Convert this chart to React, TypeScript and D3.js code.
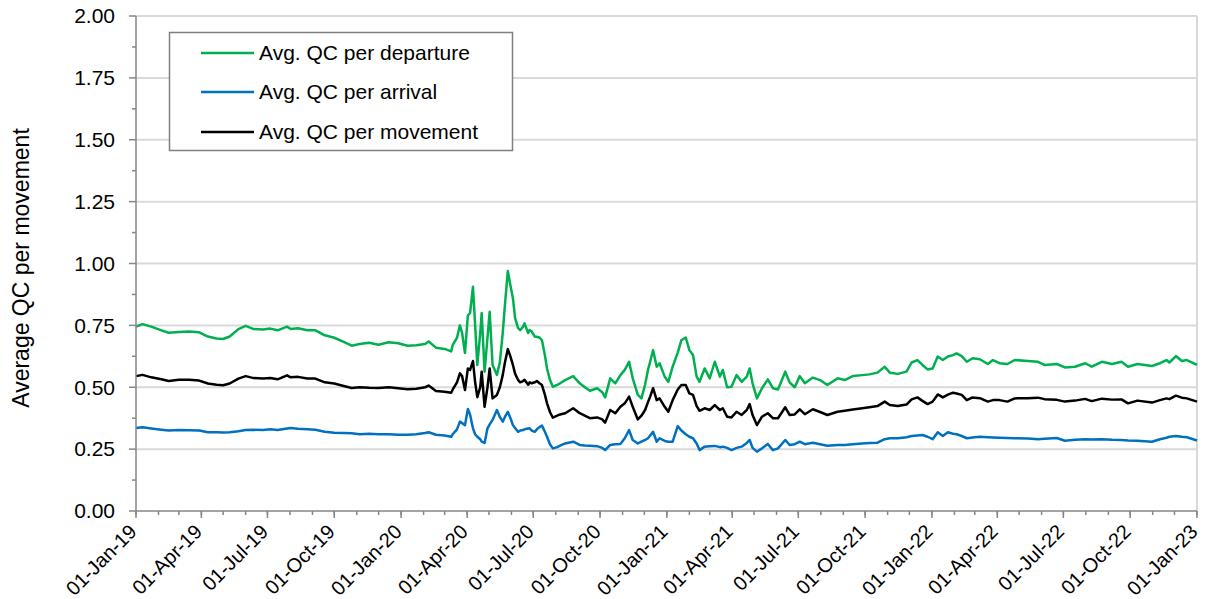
import React from "react";
import * as d3 from "d3";

const dates: string[] = [
  "2019-01-01","2019-01-10","2019-01-22","2019-02-05","2019-02-15","2019-03-01","2019-03-15","2019-03-29","2019-04-10","2019-04-22",
  "2019-05-01","2019-05-10","2019-05-22","2019-06-01","2019-06-12","2019-06-25","2019-07-05","2019-07-15","2019-07-28","2019-08-02",
  "2019-08-12","2019-08-25","2019-09-05","2019-09-18","2019-10-01","2019-10-14","2019-10-25","2019-11-05","2019-11-18","2019-12-01",
  "2019-12-15","2019-12-28","2020-01-10","2020-01-22","2020-02-03","2020-02-08","2020-02-18","2020-03-01","2020-03-10",
  "2020-03-12","2020-03-18","2020-03-22","2020-03-25","2020-03-29","2020-04-02","2020-04-05","2020-04-09","2020-04-12","2020-04-15",
  "2020-04-19","2020-04-21","2020-04-25","2020-04-29","2020-05-02","2020-05-06","2020-05-12","2020-05-16","2020-05-20","2020-05-23",
  "2020-05-27","2020-05-30","2020-06-03","2020-06-06","2020-06-10","2020-06-13","2020-06-17","2020-06-19","2020-06-24","2020-06-26",
  "2020-06-29","2020-07-03","2020-07-06","2020-07-10","2020-07-13","2020-07-17","2020-07-20","2020-07-24","2020-07-28","2020-08-03",
  "2020-08-07","2020-08-14",
  "2020-08-25","2020-09-03","2020-09-10","2020-09-17","2020-09-27","2020-10-04","2020-10-08","2020-10-15","2020-10-22","2020-10-29",
  "2020-11-04","2020-11-10","2020-11-15","2020-11-22","2020-11-27","2020-12-02","2020-12-06","2020-12-09","2020-12-13","2020-12-18",
  "2020-12-22","2020-12-29","2021-01-03","2021-01-09","2021-01-16","2021-01-21","2021-01-27","2021-02-01","2021-02-06","2021-02-11",
  "2021-02-15","2021-02-22","2021-03-01","2021-03-08","2021-03-15","2021-03-19","2021-03-25","2021-03-31","2021-04-07","2021-04-14",
  "2021-04-21","2021-04-25","2021-04-29","2021-05-05","2021-05-12","2021-05-20","2021-05-27","2021-06-03",
  "2021-06-13","2021-06-19","2021-06-26","2021-07-03","2021-07-10","2021-07-21","2021-07-31","2021-08-10","2021-08-24","2021-09-03",
  "2021-09-14","2021-09-27","2021-10-07","2021-10-18","2021-10-28","2021-11-04","2021-11-15","2021-11-27","2021-12-04","2021-12-12",
  "2021-12-19","2021-12-26","2022-01-02","2022-01-09","2022-01-16","2022-01-23","2022-01-30","2022-02-04","2022-02-11","2022-02-18",
  "2022-02-26","2022-03-08","2022-03-19",
  "2022-03-26","2022-04-04","2022-04-15","2022-04-25","2022-05-13","2022-05-27","2022-06-05","2022-06-22","2022-07-03","2022-07-17",
  "2022-07-31","2022-08-09","2022-08-23","2022-09-06","2022-09-19","2022-09-28","2022-10-11","2022-10-31","2022-11-11","2022-11-20",
  "2022-11-24","2022-12-03","2022-12-11","2022-12-18","2023-01-01",
];

const departure: number[] = [
  .745,.755,.745,.73,.72,.723,.725,.722,.705,.697,.695,.705,.735,.748,.735,.733,.737,.73,.745,.735,
  .738,.73,.73,.71,.7,.683,.668,.675,.68,.672,.682,.678,.668,.67,.675,.685,.66,.655,.645,
  .67,.7,.75,.72,.638,.79,.8,.906,.75,.59,.72,.8,.563,.7,.805,.59,.55,.6,.72,.832,
  .97,.92,.86,.78,.74,.731,.745,.758,.719,.731,.725,.705,.704,.7,.69,.63,.576,.53,.502,.51,
  .516,.529,
  .545,.516,.5,.486,.496,.48,.459,.536,.516,.549,.57,.603,.536,.469,.455,.51,.57,.603,.65,.583,
  .597,.543,.522,.583,.64,.69,.701,.65,.63,.543,.522,.576,.536,.603,.543,.57,.5,.502,.549,.522,
  .543,.576,.516,.455,.496,.532,.496,.491,
  .563,.52,.5,.545,.516,.539,.529,.509,.536,.529,.545,.549,.552,.559,.583,.559,.554,.563,.6,.61,
  .59,.572,.576,.624,.61,.624,.63,.637,.626,.603,.617,.613,.594,
  .61,.597,.594,.61,.606,.603,.59,.594,.58,.583,.597,.583,.603,.594,.603,.583,.594,.586,.597,.61,
  .6,.626,.606,.61,.59,
];

const arrival: number[] = [
  .335,.338,.333,.328,.325,.327,.326,.325,.318,.318,.317,.318,.322,.327,.328,.327,.33,.327,.333,.335,
  .332,.33,.328,.32,.316,.315,.314,.31,.312,.31,.31,.308,.308,.31,.315,.318,.308,.305,.3,
  .31,.33,.361,.355,.347,.412,.39,.334,.31,.3,.29,.28,.275,.334,.35,.368,.408,.38,.361,.38,
  .401,.38,.347,.335,.32,.325,.327,.33,.333,.334,.325,.32,.33,.34,.345,.32,.3,.27,.253,.258,
  .264,.273,
  .28,.267,.265,.264,.262,.255,.246,.267,.27,.271,.294,.327,.287,.273,.28,.287,.294,.305,.32,.28,
  .294,.283,.28,.28,.343,.325,.31,.3,.294,.273,.246,.26,.262,.263,.258,.26,.255,.246,.255,.26,
  .275,.287,.255,.24,.253,.271,.246,.253,
  .287,.267,.27,.28,.27,.276,.27,.264,.267,.267,.27,.273,.275,.276,.29,.294,.294,.298,.303,.305,
  .307,.3,.29,.318,.303,.318,.312,.31,.303,.294,.297,.3,.298,
  .297,.296,.295,.294,.293,.29,.292,.295,.284,.288,.29,.289,.29,.288,.287,.285,.284,.28,.29,.296,
  .3,.303,.3,.298,.285,
];

const movement: number[] = [
  .545,.55,.54,.532,.525,.53,.53,.527,.515,.51,.508,.515,.535,.545,.537,.535,.537,.532,.548,.54,
  .542,.535,.535,.52,.515,.505,.497,.5,.498,.497,.5,.496,.492,.494,.5,.507,.485,.482,.478,
  .49,.52,.556,.545,.489,.576,.57,.606,.52,.46,.5,.563,.421,.5,.576,.455,.469,.5,.549,.6,
  .654,.63,.59,.555,.53,.52,.525,.53,.51,.52,.516,.52,.525,.515,.509,.47,.435,.4,.377,.385,
  .39,.395,
  .415,.395,.385,.375,.378,.37,.357,.408,.395,.421,.435,.462,.421,.37,.385,.408,.44,.462,.496,.448,
  .455,.421,.401,.448,.491,.509,.509,.475,.469,.424,.405,.415,.408,.428,.408,.415,.381,.378,.401,.388,
  .408,.432,.388,.347,.381,.395,.375,.375,
  .419,.388,.39,.411,.391,.411,.4,.388,.401,.405,.41,.415,.419,.424,.442,.428,.424,.43,.451,.459,
  .445,.432,.442,.471,.459,.47,.478,.475,.469,.448,.459,.456,.442,
  .448,.448,.442,.455,.456,.458,.452,.449,.442,.446,.453,.444,.454,.45,.451,.435,.446,.438,.448,.455,
  .452,.466,.458,.455,.442,
];

const yTicks: number[] = [0, 0.25, 0.5, 0.75, 1, 1.25, 1.5, 1.75, 2];
const seriesNames: string[] = ["Avg. QC per departure", "Avg. QC per arrival", "Avg. QC per movement"];
const seriesColors: string[] = ["#00B050", "#0070C0", "#000000"];

const FONT = "'Liberation Sans', Arial, sans-serif";

export default function App() {
  const W = 1205, H = 599;
  const left = 136, right = 1197, top = 16, bottom = 511;
  const parse = d3.utcParse("%Y-%m-%d");
  const start = parse("2019-01-01") as Date;
  const end = parse("2023-01-01") as Date;
  const x = d3.scaleUtc().domain([start, end]).range([left, right]);
  const y = d3.scaleLinear().domain([0, 2]).range([bottom, top]);
  const fmtY = d3.format(".2f");
  const fmtX = d3.utcFormat("%d-%b-%y");

  const parsed = dates.map((d) => parse(d) as Date);
  const seriesValues = [departure, arrival, movement];
  const line = d3
    .line<number>()
    .x((_, i) => x(parsed[i]))
    .y((v) => y(v));

  const majorX = d3.utcMonth.every(3)!.range(start, d3.utcDay.offset(end, 1));
  const minorX = d3.utcMonth.range(start, d3.utcDay.offset(end, 1));
  const minorY = d3.range(0.125, 2, 0.25);

  const legendRows = [53, 92, 132];

  return (
    <svg width={W} height={H} style={{ position: "absolute", left: 0, top: 0, background: "#fff" }} fontFamily={FONT}>
      <rect x={0} y={0} width={W} height={H} fill="#fff" />
      {yTicks.filter((t) => t > 0).map((t) => (
        <line key={"g" + t} x1={left} x2={right} y1={y(t)} y2={y(t)} stroke="#d9d9d9" strokeWidth={2} />
      ))}
      <line x1={right} x2={right} y1={top} y2={bottom} stroke="#d9d9d9" strokeWidth={2} />

      {seriesValues.map((vals, i) => (
        <path key={"s" + i} d={line(vals) || ""} fill="none" stroke={seriesColors[i]} strokeWidth={2.5} strokeLinejoin="round" />
      ))}

      {/* y axis */}
      <line x1={left} x2={left} y1={top} y2={bottom} stroke="#868686" strokeWidth={1.5} />
      {yTicks.map((t) => (
        <g key={"yt" + t}>
          <line x1={left - 7} x2={left} y1={y(t)} y2={y(t)} stroke="#868686" strokeWidth={1.5} />
          <text x={115} y={y(t)} dy="0.35em" textAnchor="end" fontSize={21} fill="#000">
            {fmtY(t)}
          </text>
        </g>
      ))}
      {minorY.map((t) => (
        <line key={"ym" + t} x1={left - 4} x2={left} y1={y(t)} y2={y(t)} stroke="#868686" strokeWidth={1.5} />
      ))}

      {/* x axis */}
      <line x1={left} x2={right} y1={bottom} y2={bottom} stroke="#868686" strokeWidth={1.5} />
      {minorX.map((d) => (
        <line key={"xm" + d.getTime()} x1={x(d)} x2={x(d)} y1={bottom} y2={bottom + 4} stroke="#868686" strokeWidth={1.5} />
      ))}
      {majorX.map((d) => (
        <g key={"xt" + d.getTime()}>
          <line x1={x(d)} x2={x(d)} y1={bottom} y2={bottom + 7} stroke="#868686" strokeWidth={1.5} />
          <text
            transform={`translate(${x(d) - 3},${bottom + 17}) rotate(-45)`}
            textAnchor="end"
            dy="0.35em"
            fontSize={20}
            fill="#000"
          >
            {fmtX(d)}
          </text>
        </g>
      ))}

      <text transform={`translate(29,268) rotate(-90)`} textAnchor="middle" fontSize={23} fill="#000">
        Average QC per movement
      </text>

      {/* legend */}
      <rect x={169.5} y={32.5} width={343} height={118} fill="#fff" stroke="#808080" strokeWidth={1.5} />
      {seriesNames.map((name, i) => (
        <g key={"l" + i}>
          <line x1={201} x2={254} y1={legendRows[i]} y2={legendRows[i]} stroke={seriesColors[i]} strokeWidth={2.5} />
          <text x={259} y={legendRows[i]} dy="0.35em" fontSize={21} fill="#000">
            {name}
          </text>
        </g>
      ))}
    </svg>
  );
}
